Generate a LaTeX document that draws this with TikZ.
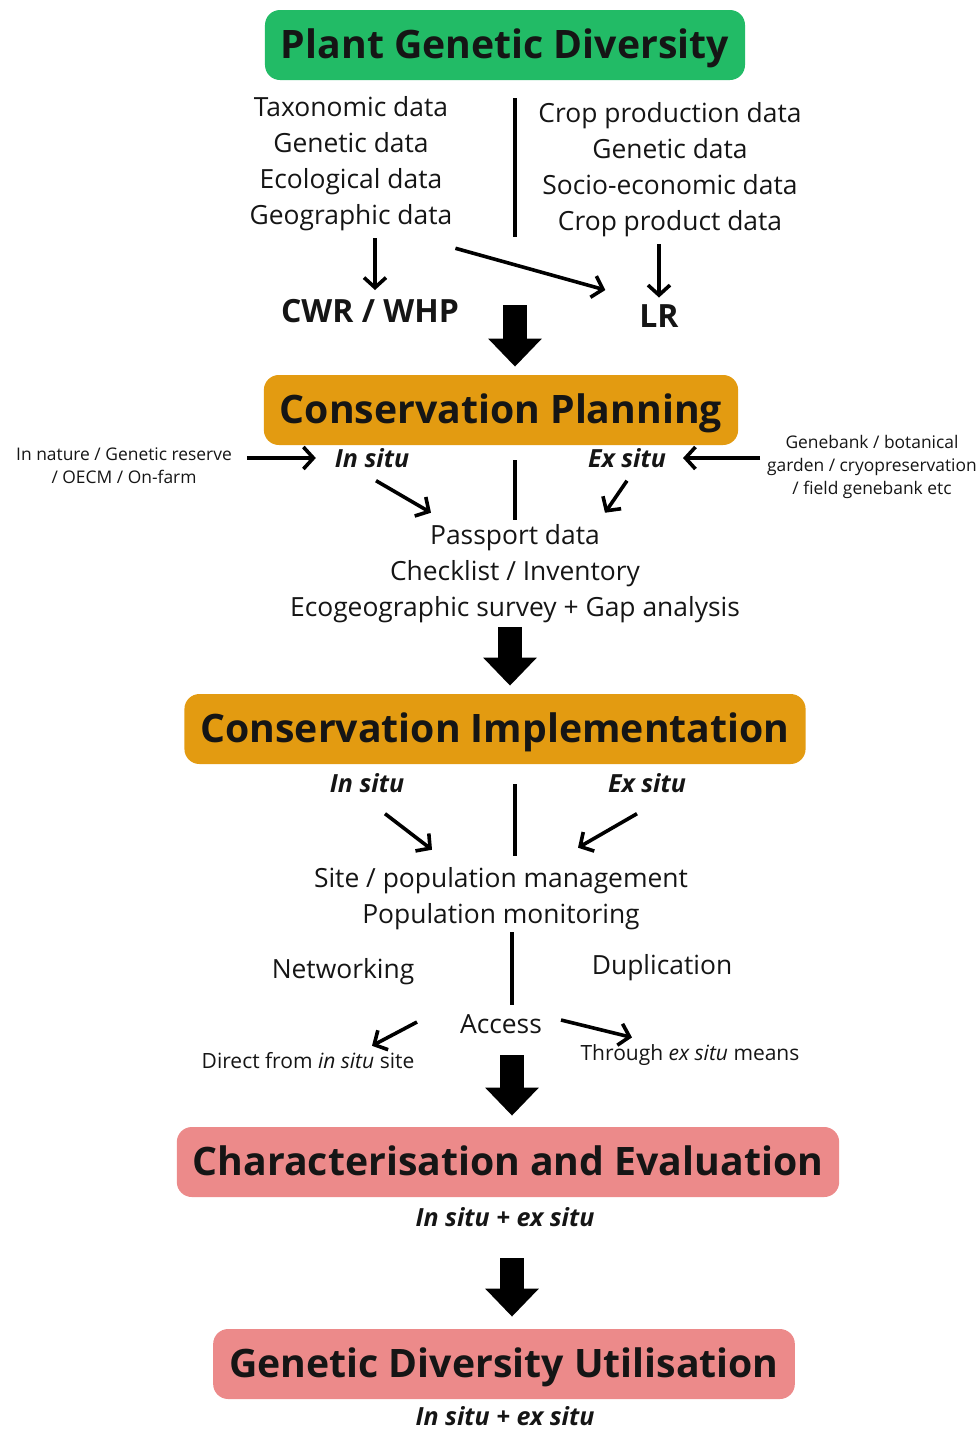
\documentclass[tikz,border=0pt]{standalone}
\usepackage{fontspec}
\setmainfont{Open Sans}
\usetikzlibrary{arrows.meta, positioning}
\definecolor{pgdgreen}{HTML}{22BB66}
\definecolor{planorange}{HTML}{E39B11}
\definecolor{evalpink}{HTML}{EC8A8A}
\definecolor{inkgray}{HTML}{151515}

\begin{document}
\begin{tikzpicture}[x=0.5pt, y=-0.5pt, text=inkgray,
    stage/.style={rounded corners=7.5pt, minimum height=35pt, inner xsep=8pt,
      text height=13pt, text depth=0pt, font=\fontsize{19.6}{22}\selectfont\bfseries},
    datalist/.style={align=center, font=\fontsize{13.2}{18}\selectfont},
    sidenote/.style={align=center, font=\fontsize{8.7}{11.5}\selectfont},
    situ/.style={font=\fontsize{12.5}{15}\selectfont\bfseries\itshape},
    rank/.style={font=\fontsize{16}{19}\selectfont\bfseries},
    divider/.style={line width=2pt},
    thinarrow/.style={line width=1.8pt, -{Straight Barb[length=5pt, width=11pt]}},
    bigarrow/.style={line width=12pt, -{Triangle[length=14pt, width=26pt]}}]
  \useasboundingbox (0,0) rectangle (976,1431);

  % --- plant genetic diversity ---
  \node[stage, fill=pgdgreen] (pgd) at (505,45) {Plant Genetic Diversity};
  \node[datalist] (wilddata) at (351,164) {Taxonomic data\\Genetic data\\Ecological data\\Geographic data};
  \node[datalist] (cropdata) at (670,170) {Crop production data\\Genetic data\\Socio-economic data\\Crop product data};
  \draw[divider] (515,98) -- (515,237);
  \node[rank] (cwr) at (370,311) {CWR / WHP};
  \node[rank] (lr) at (659,316) {LR};
  \draw[thinarrow] (wilddata.south -| 375,0) -- (375,290);
  \draw[thinarrow] (cropdata.south -| lr) -- (lr);
  \draw[thinarrow, shorten >=14pt] ([xshift=-2pt,yshift=-5pt]wilddata.south east) -- (lr.north west);

  % --- conservation planning ---
  \node[stage, fill=planorange] (plan) at (501,410) {Conservation Planning};
  \coordinate (a1) at (515,305);
  \draw[bigarrow, shorten >=4pt] (a1) -- (a1 |- plan.north);
  \node[situ] (insitu1) at (372,458) {In situ};
  \node[situ] (exsitu1) at (627,458) {Ex situ};
  \node[sidenote] (nature) at (124,466) {In nature / Genetic reserve\\/ OECM / On-farm};
  \node[sidenote] (bank) at (872,467) {Genebank / botanical\\garden / cryopreservation\\/ field genebank etc};
  \draw[thinarrow, shorten <=4pt, shorten >=6pt] (nature.east |- insitu1.west) -- (insitu1.west);
  \draw[thinarrow, shorten >=5pt] (bank.west |- exsitu1.east) -- (exsitu1.east);
  \draw[divider] (515,460) -- (515,520);
  \node[datalist] (plandata) at (515,574) {Passport data\\Checklist / Inventory\\Ecogeographic survey + Gap analysis};
  \draw[thinarrow] ([xshift=2pt,yshift=-3pt]insitu1.south) -- ([xshift=-42pt,yshift=2.5pt]plandata.north);
  \draw[thinarrow] ([yshift=-3pt]exsitu1.south) -- ([xshift=45pt,yshift=2.5pt]plandata.north);

  % --- conservation implementation ---
  \node[stage, fill=planorange] (impl) at (495,729) {Conservation Implementation};
  \coordinate (a2) at (510,627);
  \draw[bigarrow, shorten >=4pt] (a2) -- (a2 |- impl.north);
  \node[situ] (insitu2) at (367,783) {In situ};
  \node[situ] (exsitu2) at (647,783) {Ex situ};
  \draw[divider] (515,784) -- (515,856);
  \node[datalist] (mgmt) at (501,899) {Site / population management\\Population monitoring};
  \draw[thinarrow] ([xshift=9pt,yshift=-7pt]insitu2.south) -- ([xshift=-34.5pt,yshift=5.5pt]mgmt.north);
  \draw[thinarrow] ([xshift=-5pt,yshift=-7pt]exsitu2.south) -- ([xshift=38.5pt,yshift=6.5pt]mgmt.north);
  \draw[divider] (512,932) -- (512,1005);
  \node[datalist] (network) at (343,972) {Networking};
  \node[datalist] (dupl) at (662,968) {Duplication};
  \node[datalist] (access) at (501,1024) {Access};
  \node[font=\fontsize{10.5}{13}\selectfont] (direct) at (308,1061) {Direct from \textit{in situ} site};
  \node[font=\fontsize{10.5}{13}\selectfont] (through) at (690,1055) {Through \textit{ex situ} means};
  \draw[thinarrow] ([xshift=-18pt,yshift=1pt]access.west) -- ([xshift=32pt]direct.north);
  \draw[thinarrow] ([xshift=6pt,yshift=2pt]access.east) -- ([xshift=-29pt]through.north);

  % --- characterisation and utilisation ---
  \node[stage, fill=evalpink] (chareval) at (508,1162) {Characterisation and Evaluation};
  \coordinate (a3) at (512,1055);
  \draw[bigarrow, shorten >=5.5pt] (a3) -- (a3 |- chareval.north);
  \node[situ] (situ3) at (505,1217) {In situ + ex situ};
  \node[stage, fill=evalpink] (util) at (504,1364) {Genetic Diversity Utilisation};
  \coordinate (a4) at (512,1258);
  \draw[bigarrow, shorten >=6pt] (a4) -- (a4 |- util.north);
  \node[situ] (situ4) at (505,1416) {In situ + ex situ};
\end{tikzpicture}
\end{document}
